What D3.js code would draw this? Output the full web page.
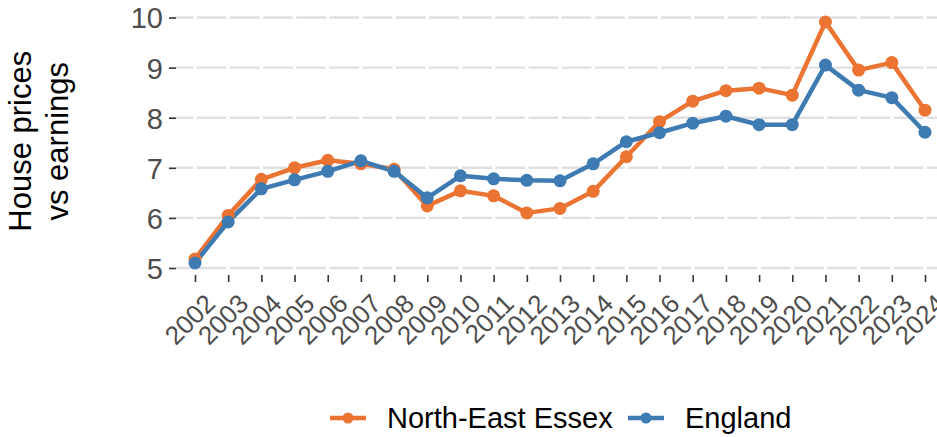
<!DOCTYPE html>
<html>
<head>
<meta charset="utf-8">
<script src="https://cdn.jsdelivr.net/npm/d3@7"></script>
<style>
  body { margin: 0; background: #fff; }
  svg text { font-family: "Liberation Sans", Arial, sans-serif; }
</style>
</head>
<body>
<div id="chart"></div>
<script>
// Ratio of house prices to earnings
var years = [2002, 2003, 2004, 2005, 2006, 2007, 2008, 2009, 2010, 2011, 2012, 2013,
             2014, 2015, 2016, 2017, 2018, 2019, 2020, 2021, 2022, 2023, 2024];
var essex = [5.18, 6.05, 6.77, 7.0, 7.15, 7.08, 6.97, 6.24, 6.54, 6.44, 6.1, 6.19,
             6.53, 7.22, 7.92, 8.33, 8.54, 8.59, 8.45, 9.91, 8.95, 9.1, 8.15];
var england = [5.1, 5.92, 6.58, 6.76, 6.93, 7.14, 6.93, 6.4, 6.84, 6.78, 6.75, 6.74,
               7.08, 7.52, 7.7, 7.89, 8.03, 7.86, 7.86, 9.05, 8.55, 8.4, 7.71];
var yTicks = [5, 6, 7, 8, 9, 10];
var seriesNames = ["North-East Essex", "England"];
var colours = ["#EC7433", "#3E7BB2"];

var width = 937, height = 437;
// panel edges (don't call it "top", that's window.top)
var panel = {left: 176, right: 937, top: 9.5, bottom: 275};

var svg = d3.select("#chart").append("svg")
    .attr("width", width)
    .attr("height", height);

var x = d3.scaleLinear().domain([2002, 2024]).range([195, 925]);
var y = d3.scaleLinear().domain([5, 10]).range([268, 17.5]);

// horizontal grid lines
svg.append("g")
  .selectAll("line")
  .data(yTicks)
  .enter().append("line")
    .attr("x1", panel.left).attr("x2", panel.right)
    .attr("y1", d => y(d)).attr("y2", d => y(d))
    .style("stroke", "#e0e0e0")
    .style("stroke-width", 2.4);

// white vertical grid lines cut the horizontal ones
svg.append("g")
  .selectAll("line")
  .data(years)
  .enter().append("line")
    .attr("x1", d => x(d)).attr("x2", d => x(d))
    .attr("y1", panel.top).attr("y2", panel.bottom)
    .style("stroke", "#ffffff")
    .style("stroke-width", 3.5);

// y axis
var yAxis = svg.append("g")
    .attr("transform", "translate(" + panel.left + ",0)")
    .call(d3.axisLeft(y).tickValues(yTicks).tickSize(7).tickPadding(6).tickFormat(d3.format("d")));
yAxis.select(".domain").remove();
yAxis.selectAll("line").style("stroke", "#333").style("stroke-width", 1.6);
yAxis.selectAll("text")
    .style("font-size", "29px")
    .style("fill", "#4d4d4d")
    .attr("dy", "0.36em");

// x axis
var xAxis = svg.append("g")
    .attr("transform", "translate(0," + panel.bottom + ")")
    .call(d3.axisBottom(x).tickValues(years).tickSize(7).tickFormat(d3.format("d")));
xAxis.select(".domain").remove();
xAxis.selectAll("line").style("stroke", "#333").style("stroke-width", 1.6);
xAxis.selectAll("text")
    .attr("y", 0)
    .attr("dy", "0.72em")
    .attr("transform", "translate(8,17) rotate(-45)")
    .style("text-anchor", "end")
    .style("font-size", "26px")
    .style("fill", "#4d4d4d");

// y axis title, two lines
var title = svg.append("text")
    .attr("transform", "translate(31," + ((panel.top + panel.bottom) / 2 - 1) + ") rotate(-90)")
    .style("text-anchor", "middle")
    .style("font-size", "31px")
    .style("fill", "#000");
title.append("tspan").attr("x", 0).attr("y", 0).text("House prices");
title.append("tspan").attr("x", 0).attr("y", 37).text("vs earnings");

// lines and points
var line = d3.line()
    .x((d, i) => x(years[i]))
    .y(d => y(d));

var series = [essex, england];

series.forEach(function(values, k) {
  svg.append("path")
    .datum(values)
    .attr("d", line)
    .style("fill", "none")
    .style("stroke", colours[k])
    .style("stroke-width", 4.5)
    .style("stroke-linejoin", "round");
});

series.forEach(function(values, k) {
  svg.append("g")
    .selectAll("circle")
    .data(values)
    .enter().append("circle")
      .attr("cx", (d, i) => x(years[i]))
      .attr("cy", d => y(d))
      .attr("r", 6.5)
      .style("fill", colours[k]);
});

// legend
var legendX = [330, 628];
var legend = svg.append("g").attr("transform", "translate(0,418)");
seriesNames.forEach(function(name, k) {
  var g = legend.append("g").attr("transform", "translate(" + legendX[k] + ",0)");
  g.append("line")
    .attr("x1", 0).attr("x2", 36)
    .style("stroke", colours[k])
    .style("stroke-width", 4.5);
  g.append("circle")
    .attr("cx", 18).attr("r", 5.5)
    .style("fill", colours[k]);
  g.append("text")
    .attr("x", 57)
    .attr("dy", "0.36em")
    .style("font-size", "29px")
    .style("fill", "#000")
    .text(name);
});
</script>
</body>
</html>
